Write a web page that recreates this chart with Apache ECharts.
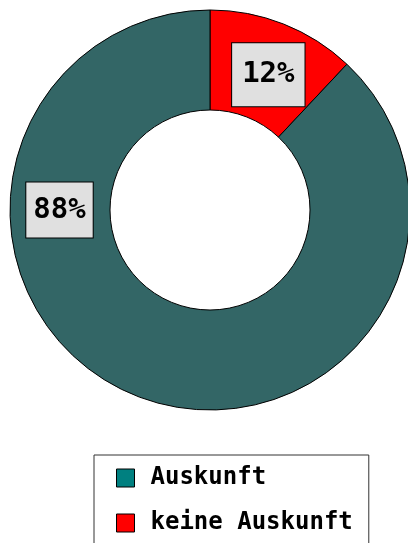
<!DOCTYPE html>
<html>
<head>
<meta charset="utf-8">
<script src="https://cdn.jsdelivr.net/npm/echarts@6/dist/echarts.min.js"></script>
<style>
  html, body { margin: 0; padding: 0; background: #ffffff; }
  #chart { width: 408px; height: 543px; }
</style>
</head>
<body>
<div id="chart"></div>
<script>
// Share of answers: categories in drawing order (clockwise from 12 o'clock)
const categories = ['keine Auskunft', 'Auskunft'];
const values = [12, 88];
const sliceColors = ['#ff0000', '#336666'];
// Legend lists the categories in this order, with its own swatch colours
const legendOrder = ['Auskunft', 'keine Auskunft'];
const legendColors = ['#008080', '#ff0000'];

const FONT = '"DejaVu Sans Mono", monospace';

const chart = echarts.init(document.getElementById('chart'), null, { renderer: 'canvas' });

const pieData = categories.map((name, i) => ({
  name: name,
  value: values[i],
  itemStyle: { color: sliceColors[i] },
  label: { padding: i === 0 ? [17, 10, 17, 10] : [13, 7, 13, 7] }
}));

chart.setOption({
  backgroundColor: '#ffffff',
  animation: false,
  legend: {
    orient: 'vertical',
    left: 94,
    top: 455,
    height: 150,
    padding: [11, 16, 22, 22],
    itemGap: 21,
    itemWidth: 18,
    itemHeight: 18,
    borderColor: '#333333',
    borderWidth: 1,
    backgroundColor: '#ffffff',
    icon: 'rect',
    selectedMode: false,
    data: legendOrder.map((name, i) => ({
      name: name,
      itemStyle: { color: legendColors[i], borderColor: '#000000', borderWidth: 1 }
    })),
    textStyle: {
      fontFamily: FONT,
      fontWeight: 'bold',
      fontSize: 24,
      color: '#000000',
      padding: [0, 0, 0, 11]
    }
  },
  series: [{
    type: 'pie',
    center: [210, 210],
    radius: [100, 200],
    startAngle: 90,
    clockwise: true,
    percentPrecision: 0,
    avoidLabelOverlap: false,
    silent: true,
    itemStyle: { borderColor: '#000000', borderWidth: 1 },
    label: {
      show: true,
      position: 'inside',
      formatter: '{d}%',
      fontFamily: FONT,
      fontWeight: 'bold',
      fontSize: 29,
      color: '#000000',
      backgroundColor: '#e0e0e0',
      borderColor: '#000000',
      borderWidth: 1
    },
    labelLine: { show: false },
    // Small slice: nudge its label a little toward the ring's middle.
    // Large slice: label sits on the ring's left side, halfway between the radii.
    labelLayout: function (p) {
      if (p.dataIndex === 0) {
        return { dx: 2, dy: 7 };
      }
      if (p.dataIndex === 1) {
        return {
          x: p.rect.x + 50,
          y: p.rect.y + p.rect.height / 2,
          align: 'center',
          verticalAlign: 'middle'
        };
      }
    },
    data: pieData
  }]
});
</script>
</body>
</html>
